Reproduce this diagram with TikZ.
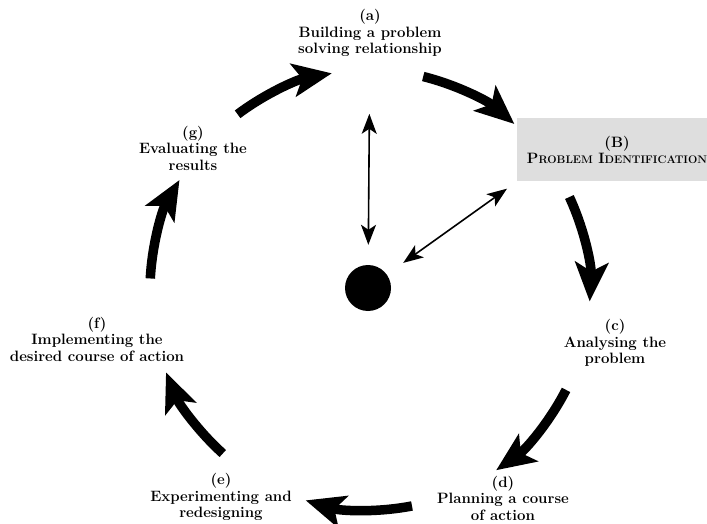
\documentclass[tikz,border=0pt]{standalone}
\usetikzlibrary{arrows.meta}
\newcommand{\fakesc}[1]{{\fontsize{11}{13}\selectfont #1}}
\begin{document}
\begin{tikzpicture}[x=1pt,y=1pt,
    stage/.style={align=center,font=\bfseries\fontsize{15}{16.5}\selectfont,inner sep=1pt},
    cyclearr/.style={line width=9.5pt,-{Stealth[length=39pt,width=33pt,inset=9pt]}},
    linkarr/.style={line width=1.6pt,{Stealth[length=20pt,width=15pt,inset=5pt]}-{Stealth[length=20pt,width=15pt,inset=5pt]}}]
    \clip (0,0) rectangle (707,523);
    % stages round the cycle
    \node[stage] (a) at (370,490) {(a)\\Building a problem\\solving relationship};
    \node[stage,fill=black!13,minimum width=200pt,minimum height=63pt] (box) at (617,373) {(B)\\P\fakesc{ROBLEM} I\fakesc{DENTIFICATION}};
    \node[stage] (c) at (615,180) {(c)\\Analysing the\\problem};
    \node[stage] (d) at (503,25) {(d)\\Planning a course\\of action};
    \node[stage] (e) at (221,26) {(e)\\Experimenting and\\redesigning};
    \node[stage] (f) at (97,184) {(f)\\Implementing the\\desired course of action};
    \node[stage] (g) at (193,375) {(g)\\Evaluating the\\results};
    \node[circle,fill=black,minimum size=46pt,inner sep=0pt] (hub) at (368,235) {};
    % big arrows on a circle of radius 220
    \coordinate (mid) at (370,233);
    \foreach \s/\e [count=\i] in {76/49,25/-3,-27/-55,-79/-107,-132/-158,177/150,127/100}
    {
        \path (mid) ++(\s:220) coordinate (t\i);
        \draw[cyclearr] (t\i) arc[start angle=\s,end angle=\e,radius=220];
    }
    % links to the hub
    \draw[linkarr,shorten <=20pt,shorten >=56pt] (hub) -- (a);
    \draw[linkarr,shorten <=20pt,shorten >=12pt] (hub) -- (box.south west);
\end{tikzpicture}
\end{document}
